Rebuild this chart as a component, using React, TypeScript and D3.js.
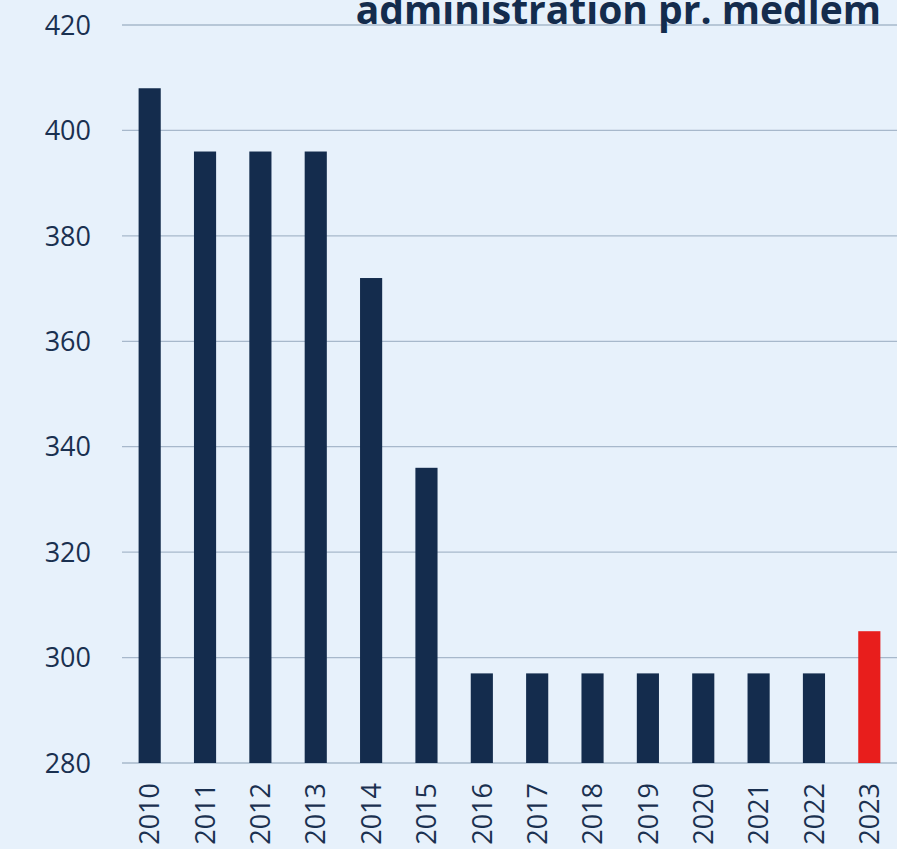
import React, { useEffect, useRef } from "react";
import * as d3 from "d3";

const years = ["2010", "2011", "2012", "2013", "2014", "2015", "2016", "2017", "2018", "2019", "2020", "2021", "2022", "2023"];
const values = [408, 396, 396, 396, 372, 336, 297, 297, 297, 297, 297, 297, 297, 305];
const yTicks = [280, 300, 320, 340, 360, 380, 400, 420];
const title = "administration pr. medlem";

const W = 897;
const H = 849;

export default function App() {
  const ref = useRef<SVGSVGElement>(null);

  useEffect(() => {
    const svg = d3.select(ref.current);
    svg.selectAll("*").remove();

    const font = "'Open Sans', 'Noto Sans', sans-serif";
    const navy = "#142c4d";

    // background
    svg.append("rect").attr("width", W).attr("height", H).attr("fill", "#e7f1fb");

    const x = d3.scaleBand().domain(years).range([122, 897]).paddingInner(0.6).paddingOuter(0.3);
    const y = d3.scaleLinear().domain([280, 420]).range([763, 25]);

    // gridlines
    svg
      .selectAll(".grid")
      .data(yTicks)
      .enter()
      .append("line")
      .attr("x1", 122)
      .attr("x2", W)
      .attr("y1", (d) => y(d))
      .attr("y2", (d) => y(d))
      .attr("stroke", "#a7b8cb")
      .attr("stroke-width", 1.3);

    // y labels
    svg
      .selectAll(".ylab")
      .data(yTicks)
      .enter()
      .append("text")
      .attr("x", 91)
      .attr("y", (d) => y(d))
      .attr("dy", "0.36em")
      .attr("text-anchor", "end")
      .style("font-family", font)
      .style("font-size", "27px")
      .attr("fill", "#1a3050")
      .text((d) => d);

    // bars
    svg
      .selectAll(".bar")
      .data(values)
      .enter()
      .append("rect")
      .attr("x", (d, i) => x(years[i])!)
      .attr("width", x.bandwidth())
      .attr("y", (d) => y(d))
      .attr("height", (d) => y(280) - y(d))
      .attr("fill", (d, i) => (i === years.length - 1 ? "#e81e1c" : navy));

    // x labels, rotated
    svg
      .selectAll(".xlab")
      .data(years)
      .enter()
      .append("text")
      .attr("transform", (d) => `translate(${x(d)! + x.bandwidth() / 2}, 783) rotate(-90)`)
      .attr("dy", "0.36em")
      .attr("text-anchor", "end")
      .style("font-family", font)
      .style("font-size", "27px")
      .attr("fill", "#1a3050")
      .text((d) => d);

    // title (cut off at top, as in the source)
    svg
      .append("text")
      .attr("x", 881)
      .attr("y", 24)
      .attr("text-anchor", "end")
      .style("font-family", font)
      .style("font-size", "39px")
      .style("font-weight", "bold")
      .attr("fill", navy)
      .text(title);
  }, []);

  return <svg ref={ref} width={W} height={H} style={{ position: "absolute", left: 0, top: 0, display: "block" }} />;
}
